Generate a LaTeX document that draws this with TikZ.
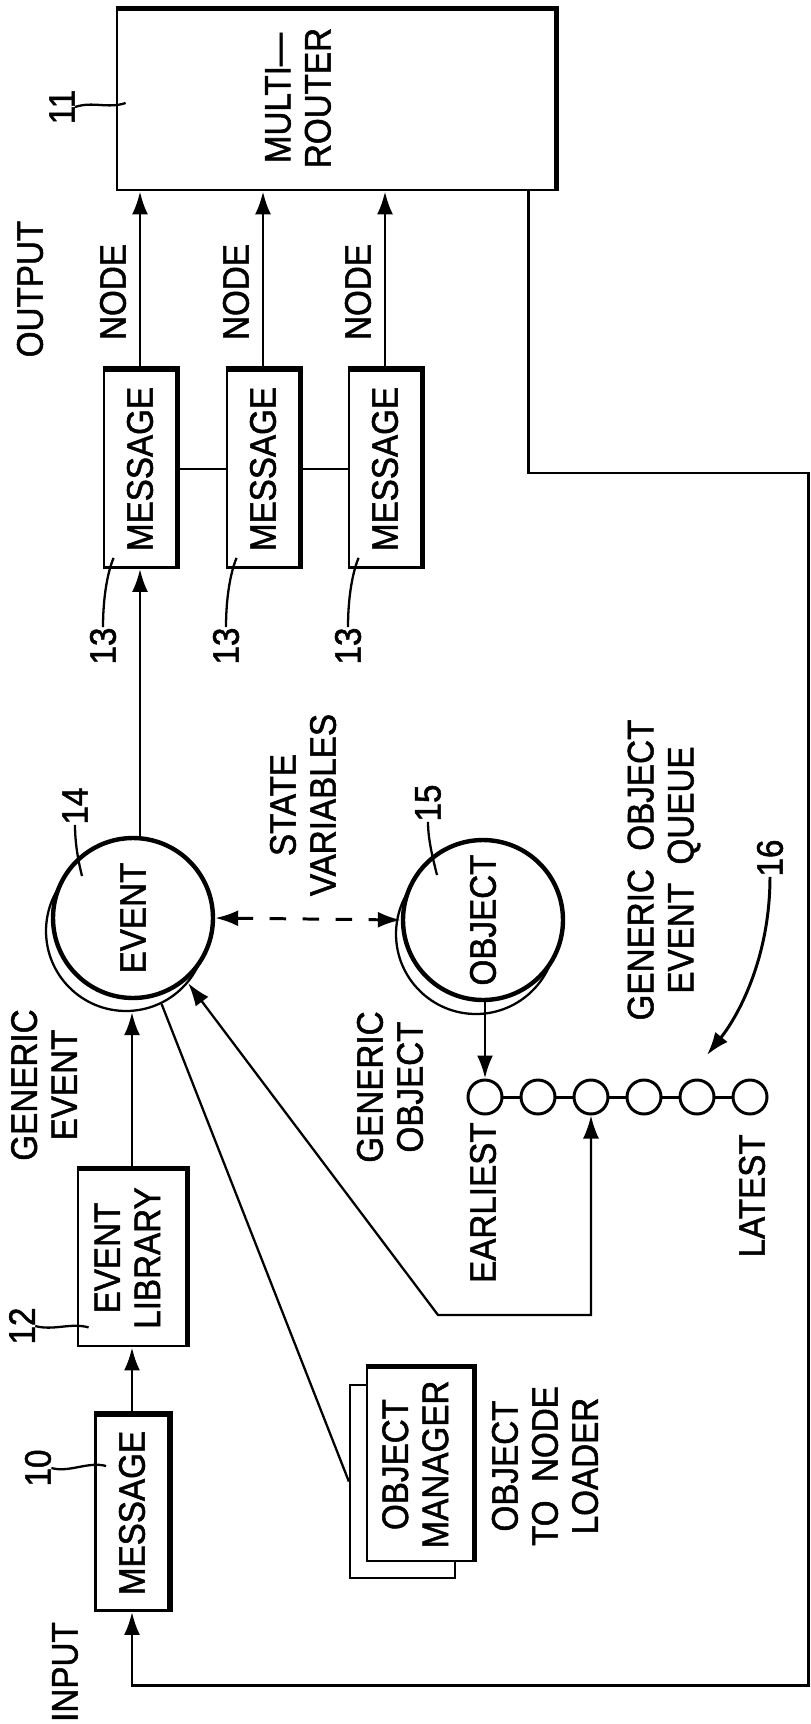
\documentclass[tikz,border=0pt]{standalone}
\usepackage{fontspec}
\setmainfont{Liberation Sans}[FakeStretch=0.9,FakeBold=1.4]
\usepackage{graphicx}
\usetikzlibrary{arrows.meta}

\newcommand{\vtxt}[1]{\rotatebox{90}{\begin{tabular}{@{}c@{}}#1\end{tabular}}}

\tikzset{
  every node/.style={font=\fontsize{21}{22.8}\selectfont, inner sep=0pt},
  lbl/.style={rotate=90, align=center},
  box/.style={draw, line width=1.6pt, fill=white},
  thickedge/.style={line width=3pt},
  conn/.style={line width=1.7pt},
  fine/.style={line width=1.3pt},
  arr/.style={-{Latex[length=0.46cm,width=0.32cm]}},
  darr/.style={{Latex[length=0.46cm,width=0.32cm]}-{Latex[length=0.46cm,width=0.32cm]}},
}

\begin{document}
\begin{tikzpicture}[x=0.02cm,y=-0.02cm]
\useasboundingbox (0,0) rectangle (811,1724);

% multi-router and the output messages
\node[box, minimum width=8.76cm, minimum height=3.6cm] (router) at (336,100) {};
\node[lbl] (routertxt) at (298,98) {MULTI---\\ROUTER};
\node[lbl] (n11) at (62,107) {11};
\draw[fine] (n11.south) .. controls +(18,-6) and +(-18,6) .. ([shift={(10,3)}]router.west);
\node[lbl] (output) at (30,289) {OUTPUT};

\foreach \i/\x in {1/140,2/263,3/385} {
  \node[box, minimum width=1.44cm, minimum height=3.94cm] (m\i) at (\x,469) {\rotatebox{90}{MESSAGE}};
  \node[lbl] (node\i) at (\x-27,292) {NODE};
  \node[lbl] (n13\i) at (\x-37,646) {13};
  \draw[conn,arr] (m\i.north) -- (m\i.north |- router.south);
  \draw[fine] (n13\i.east) .. controls +(0,-30) and +(-6,14) .. ([shift={(11,-11)}]m\i.south west);
}
\draw[conn] (m1.east) -- (m2.west);
\draw[conn] (m2.east) -- (m3.west);

% feedback loop back to the input
\coordinate (fbtop) at (808,473);
\coordinate (fbbot) at (808,1685);

% event and object
\node[circle, draw, fine, fill=white, minimum size=3.2cm] (e14s) at (126,931) {};
\node[circle, draw, line width=2.5pt, fill=white, minimum size=3.2cm] (e14) at (133,918) {\rotatebox{90}{EVENT}};
\node[lbl] (n14) at (75,806) {14};
\draw[fine] (n14.west) .. controls +(0,18) and +(-4,-16) .. ([shift={(-51,-42)}]e14.center);
\draw[conn,arr] (m1.south |- e14.north) -- (m1.south);

\node[circle, draw, fine, fill=white, minimum size=3.2cm] (o15s) at (476,934) {};
\node[circle, draw, line width=2.5pt, fill=white, minimum size=3.2cm] (o15) at (483,920) {\rotatebox{90}{OBJECT}};
\node[lbl] (n15) at (428,803) {15};
\draw[fine] (n15.west) .. controls +(0,18) and +(-4,-16) .. ([shift={(-46,-45)}]o15.center);

\node[lbl] (statevars) at (303,805) {STATE\\VARIABLES};
\draw[conn,darr,dash pattern=on 0.33cm off 0.33cm] (e14.east) -- (o15.west);

\node[lbl] (genevent) at (44,1085) {GENERIC\\EVENT};
\node[lbl] (genobj) at (390,1087) {GENERIC\\OBJECT};

% event queue
\foreach \i in {1,...,6}
  \node[circle, draw, conn, minimum size=0.68cm] (q\i) at ({485+53*(\i-1)},1097) {};
\foreach \i [count=\j from 2] in {1,...,5}
  \draw[conn] (q\i.east) -- (q\j.west);
\draw[conn,arr] (q1.north |- o15.south) -- (q1.north);
\node[lbl, anchor=east] (earliest) at (483,1122) {EARLIEST};
\node[lbl, anchor=east] (latest) at (752,1134) {LATEST};
\node[lbl] (queuelbl) at (664,870) {GENERIC\ \ OBJECT\\EVENT\ \ QUEUE};
\node[lbl] (n16) at (770,858) {16};
\coordinate (qtip) at (707,1055);
\draw[conn,arr] (n16.west) .. controls +(0,80) and +(32,-40) .. (qtip);

% library and input message
\node[box, minimum width=2.16cm, minimum height=3.52cm] (lib) at (132,1258) {\vtxt{EVENT\\LIBRARY}};
\draw[conn,arr] (lib.north) -- (lib.north |- e14s.south);
\node[lbl] (n12) at (22,1326) {12};
\draw[fine] (n12.south) .. controls +(18,5) and +(-18,-5) .. ([shift={(12,-20)}]lib.south west);

\node[box, minimum width=1.46cm, minimum height=3.9cm] (m10) at (132,1513) {\rotatebox{90}{MESSAGE}};
\draw[conn,arr] (m10.north) -- (lib.south);
\node[lbl] (n10) at (38,1468) {10};
\draw[fine] (n10.south) .. controls +(18,5) and +(-18,-5) .. ([shift={(12,-47)}]m10.west);
\node[lbl] (input) at (65,1672) {INPUT};

\draw[conn,arr] ([shift={(-28,0)}]router.south east) |- (fbtop) -- (fbbot) -| (m10.south);

% object manager
\node[box, fine, minimum width=2.1cm, minimum height=3.86cm] (omb) at (402.5,1481.5) {};
\node[box, minimum width=2.12cm, minimum height=3.86cm] (om) at (420,1464.5) {\vtxt{OBJECT\\MANAGER}};
\node[lbl] (loader) at (545,1466) {OBJECT\\TO\ \ NODE\\LOADER};

\draw[fine] (e14s.-64) -- (omb.west);
\coordinate (bend) at (438,1315);
\draw[fine,darr] (e14s.-40) -- (bend) -- (bend -| q3.south) -- (q3.south);

% heavier top and right edges
\foreach \b in {router,m1,m2,m3,lib,m10,om}
  \draw[thickedge] (\b.north west) -- (\b.north east) -- (\b.south east);
\end{tikzpicture}
\end{document}
